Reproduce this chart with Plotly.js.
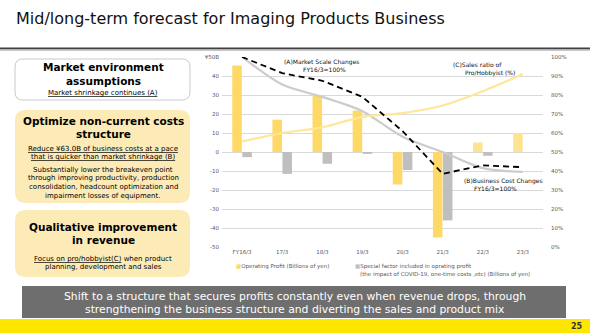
<!DOCTYPE html>
<html><head><meta charset="utf-8">
<script src="https://cdn.plot.ly/plotly-3.0.1.min.js"></script>
<style>html,body{margin:0;padding:0;background:#fff}#c{width:590px;height:333px}</style>
</head><body><div id="c"></div>
<script>
// ---- data ----
const categories = ['FY16/3','17/3','18/3','19/3','20/3','21/3','22/3','23/3'];
const operatingProfit = [45.5, 17.0, 29.8, 21.8, -17.1, -45.0, 5.0, 10.0];
const specialFactor = [-2.7, -11.5, -6.2, -1.0, -9.5, -36.0, -2.0, null];
const marketScale = [100, 85.5, 79, 71.5, 58, 50, 41.5, 39.5];      // (A) FY16/3=100%
const businessCost = [100, 91.5, 87.5, 79, 61, 38.5, 43, 42];       // (B) FY16/3=100%
const proRatio = [55.5, 60, 63, 68.5, 70.5, 74.5, 82, 91];          // (C) %
const leftTickVals = [-50,-40,-30,-20,-10,0,10,20,30,40,50];
const leftTickText = ['-50','-40','-30','-20','-10','0','10','20','30','40','¥50B'];

const W = 590, H = 333;
const F = 'DejaVu Sans';
const X = x => x / W, Y = y => 1 - y / H;
function rr(x0,y0,x1,y1,r){
  return `M ${X(x0+r)},${Y(y0)} L ${X(x1-r)},${Y(y0)} Q ${X(x1)},${Y(y0)} ${X(x1)},${Y(y0+r)} `+
         `L ${X(x1)},${Y(y1-r)} Q ${X(x1)},${Y(y1)} ${X(x1-r)},${Y(y1)} L ${X(x0+r)},${Y(y1)} `+
         `Q ${X(x0)},${Y(y1)} ${X(x0)},${Y(y1-r)} L ${X(x0)},${Y(y0+r)} Q ${X(x0)},${Y(y0)} ${X(x0+r)},${Y(y0)} Z`;
}
function ann(x, y, text, size, o){
  return Object.assign({xref:'paper', yref:'paper', x:X(x), y:Y(y), text:text, showarrow:false,
    xanchor:'center', yanchor:'middle', font:{family:F, size:size, color:'#000'}}, o||{});
}

const traces = [
  {type:'bar', name:'Operating Profit (Billions of yen)', x:categories, y:operatingProfit,
   marker:{color:['#ffd966','#ffd966','#ffd966','#ffd966','#ffd966','#ffd966','#ffe48f','#ffe48f']}},
  {type:'bar', name:'Special factor included in oprating profit', x:categories, y:specialFactor,
   marker:{color:'#bfbfbf'}},
  {type:'scatter', mode:'lines', name:'(A)Market Scale Changes', x:categories, y:marketScale, yaxis:'y2',
   line:{color:'#cccccc', width:2.2, shape:'spline', smoothing:0.8}},
  {type:'scatter', mode:'lines', name:'(C)Sales ratio of Pro/Hobbyist', x:categories, y:proRatio, yaxis:'y2',
   line:{color:'#ffe699', width:2.2, shape:'spline', smoothing:0.8}},
  {type:'scatter', mode:'lines', name:'(B)Business Cost Changes', x:categories, y:businessCost, yaxis:'y2',
   line:{color:'#000000', width:1.8, dash:'6px,4px'}}
];

const shapes = [
  {type:'rect', xref:'paper', yref:'paper', x0:0, x1:1, y0:Y(49.5), y1:Y(47.5), fillcolor:'#404040', line:{width:0}},
  {type:'rect', xref:'paper', yref:'paper', x0:0, x1:1, y0:Y(51), y1:Y(49.5), fillcolor:'#c8c8c8', line:{width:0}},
  {type:'path', xref:'paper', yref:'paper', path:rr(15,59,190,100,8), fillcolor:'#ffffff', line:{color:'#c9c9c9', width:1}},
  {type:'path', xref:'paper', yref:'paper', path:rr(15,110,190,203,11), fillcolor:'#fcebb7', line:{width:0}},
  {type:'path', xref:'paper', yref:'paper', path:rr(15,210,190,277,11), fillcolor:'#fcebb7', line:{width:0}},
  {type:'rect', xref:'paper', yref:'paper', x0:X(22), x1:X(566), y0:Y(318), y1:Y(286), fillcolor:'#6e6e6e', line:{width:0}},
  {type:'rect', xref:'paper', yref:'paper', x0:0, x1:1, y0:0, y1:Y(319), fillcolor:'#ffe600', line:{width:0}}
];

const G = {family:F, size:5.5, color:'#595959'};
const annotations = [
  ann(14, 18, 'Mid/long-term forecast for Imaging Products Business', 16, {xanchor:'left', font:{family:F,size:16,color:'#111'}}),
  ann(103, 67, '<b>Market environment</b>', 10.5),
  ann(103, 81, '<b>assumptions</b>', 10.5),
  ann(103, 93.5, '<u>Market shrinkage continues (A)</u>', 7),
  ann(103, 121, '<b>Optimize non-current costs</b>', 10.5),
  ann(103, 134, '<b>structure</b>', 10.5),
  ann(103, 149, '<u>Reduce ¥63.0B of business costs at a pace</u>', 7),
  ann(103, 156.5, '<u>that is quicker than market shrinkage (B)</u>', 7),
  ann(103, 169.5, 'Substantially lower the breakeven point', 7),
  ann(103, 178, 'through improving productivity, production', 7),
  ann(103, 186.5, 'consolidation, headcount optimization and', 7),
  ann(103, 195.5, 'impairment losses of equipment.', 7),
  ann(103, 227, '<b>Qualitative improvement</b>', 10.5),
  ann(103, 240, '<b>in revenue</b>', 10.5),
  ann(103, 258.5, '<u>Focus on pro/hobbyist(C)</u> when product', 7),
  ann(103, 267, 'planning, development and sales', 7),
  ann(322, 61.5, '(A)Market Scale Changes', 6, {font:{family:F,size:6,color:'#111'}}),
  ann(324, 69.5, 'FY16/3=100%', 6, {font:{family:F,size:6,color:'#111'}}),
  ann(451, 65, '(C)Sales ratio of', 6, {xanchor:'left', font:{family:F,size:6,color:'#111'}}),
  ann(463, 73, 'Pro/Hobbyist (%)', 6, {xanchor:'left', font:{family:F,size:6,color:'#111'}}),
  ann(462, 181, '(B)Business Cost Changes', 6, {xanchor:'left', font:{family:F,size:6,color:'#111'}}),
  ann(472, 188.5, 'FY16/3=100%', 6, {xanchor:'left', font:{family:F,size:6,color:'#111'}}),
  ann(234, 266, '<span style="color:#ffd966">■</span>Operating Profit (Billions of yen)', 5.5, {xanchor:'left', font:G}),
  ann(353, 266, '<span style="color:#bfbfbf">■</span>Special factor included in oprating profit', 5.5, {xanchor:'left', font:G}),
  ann(358, 274.5, '(the impact of COVID-19, one-time costs ,etc) (Billions of yen)', 5.5, {xanchor:'left', font:G}),
  ann(295, 296, 'Shift to a structure that secures profits constantly even when revenue drops, through', 10.8, {font:{family:F,size:10.8,color:'#ffffff'}}),
  ann(295, 309.5, 'strengthening the business structure and diverting the sales and product mix', 10.8, {font:{family:F,size:10.8,color:'#ffffff'}}),
  ann(585, 326, '<b>25</b>', 8, {xanchor:'right', font:{family:F,size:8,color:'#333'}})
];

const layout = {
  width:W, height:H, margin:{l:0,r:0,t:0,b:0}, paper_bgcolor:'#ffffff', plot_bgcolor:'#ffffff',
  showlegend:false, barmode:'group', bargap:0.5, bargroupgap:0.05,
  xaxis:{domain:[X(222), X(543)], type:'category', showgrid:false, zeroline:false, showline:false, ticks:'',
         tickfont:G, fixedrange:true},
  yaxis:{domain:[Y(247), Y(57)], range:[-50,50], tickvals:leftTickVals, ticktext:leftTickText,
         showgrid:true, gridcolor:'#d9d9d9', gridwidth:1, zeroline:false, showline:false, ticks:'',
         tickfont:G, ticklabelstandoff:2},
  yaxis2:{overlaying:'y', side:'right', anchor:'x', range:[0,100], dtick:10, ticksuffix:'%', showgrid:false,
          zeroline:false, showline:false, ticks:'', tickfont:G, ticklabelstandoff:7},
  shapes:shapes, annotations:annotations
};
Plotly.newPlot('c', traces, layout, {staticPlot:true, displayModeBar:false});
</script></body></html>
